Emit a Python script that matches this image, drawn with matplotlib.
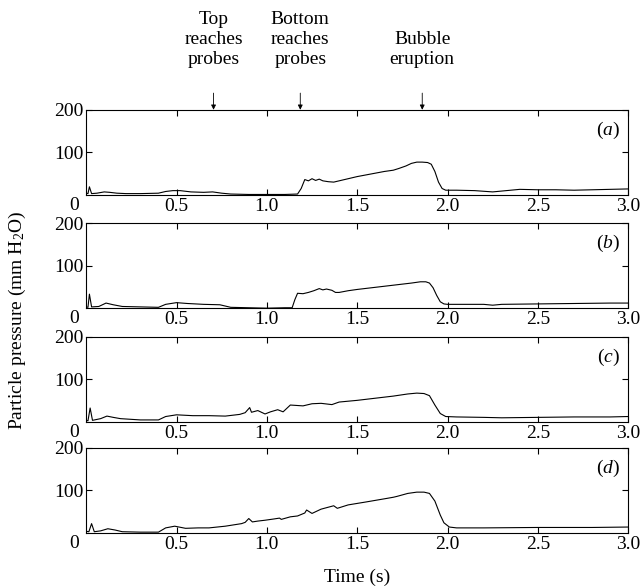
import matplotlib
matplotlib.use("Agg")
import matplotlib.pyplot as plt

plt.rcParams['font.family'] = ['Liberation Serif', 'DejaVu Serif']
plt.rcParams['mathtext.fontset'] = 'custom'
plt.rcParams['mathtext.rm'] = 'Liberation Serif'
plt.rcParams['mathtext.it'] = 'Liberation Serif:italic'
plt.rcParams['font.size'] = 14

# pressure traces (time in s, pressure in mm H2O)
t_a = [0, 0.01, 0.018, 0.03, 0.06, 0.1, 0.13, 0.17, 0.22, 0.3, 0.4, 0.44, 0.48, 0.52, 0.58,
       0.65, 0.7, 0.75, 0.8, 0.9, 1.0, 1.1, 1.17, 1.19, 1.21, 1.23, 1.25, 1.27, 1.29, 1.31,
       1.34, 1.37, 1.4, 1.45, 1.5, 1.55, 1.6, 1.65, 1.7, 1.73, 1.77, 1.8, 1.83, 1.86, 1.89,
       1.91, 1.93, 1.95, 1.97, 1.99, 2.05, 2.15, 2.25, 2.3, 2.4, 2.5, 2.6, 2.7, 2.8, 2.9, 3.0]
p_a = [4, 3, 19, 3, 4, 7, 6, 4, 3, 3, 4, 8, 10, 10, 7,
       6, 7, 4, 2, 1, 1, 1, 2, 15, 36, 33, 38, 34, 37, 33,
       31, 30, 33, 38, 43, 47, 51, 55, 58, 62, 68, 74, 77, 77, 76,
       72, 55, 30, 15, 11, 11, 10, 7, 9, 13, 12, 12, 11, 12, 13, 14]

t_b = [0, 0.01, 0.018, 0.03, 0.07, 0.11, 0.15, 0.2, 0.3, 0.4, 0.44, 0.5, 0.56, 0.65, 0.74,
       0.8, 0.9, 1.0, 1.1, 1.14, 1.155, 1.17, 1.2, 1.23, 1.26, 1.29, 1.31, 1.33, 1.36, 1.38,
       1.4, 1.45, 1.5, 1.6, 1.7, 1.8, 1.85, 1.88, 1.9, 1.92, 1.94, 1.96, 1.98, 2.0, 2.1,
       2.2, 2.25, 2.3, 2.5, 2.7, 2.9, 3.0]
p_b = [3, 2, 33, 3, 4, 12, 8, 4, 3, 2, 9, 13, 11, 9, 8,
       2, 1, 0, 1, 1, 20, 35, 34, 37, 41, 46, 43, 45, 42, 37,
       37, 41, 44, 49, 54, 59, 62, 62, 59, 48, 30, 15, 10, 9, 9,
       9, 7, 9, 10, 11, 12, 12]

t_c = [0, 0.01, 0.022, 0.035, 0.08, 0.115, 0.15, 0.19, 0.3, 0.4, 0.44, 0.5, 0.59, 0.68,
       0.77, 0.85, 0.88, 0.905, 0.915, 0.95, 0.99, 1.02, 1.06, 1.09, 1.13, 1.2, 1.25, 1.3,
       1.36, 1.4, 1.5, 1.6, 1.7, 1.78, 1.83, 1.87, 1.9, 1.93, 1.96, 1.99, 2.05, 2.2, 2.3,
       2.5, 2.7, 2.9, 3.0]
p_c = [4, 3, 33, 4, 8, 14, 11, 8, 5, 5, 13, 17, 15, 15,
       14, 18, 22, 34, 23, 27, 19, 24, 29, 24, 40, 38, 43, 44,
       41, 47, 51, 56, 61, 66, 68, 67, 62, 40, 20, 13, 12, 11, 10,
       11, 12, 12, 13]

t_d = [0, 0.015, 0.03, 0.045, 0.08, 0.12, 0.16, 0.2, 0.3, 0.4, 0.44, 0.49, 0.55, 0.62,
       0.68, 0.77, 0.86, 0.88, 0.9, 0.92, 0.95, 0.99, 1.04, 1.07, 1.08, 1.13, 1.17, 1.21,
       1.22, 1.25, 1.3, 1.37, 1.39, 1.45, 1.55, 1.66, 1.7, 1.72, 1.78, 1.83, 1.87, 1.9,
       1.93, 1.96, 1.98, 2.01, 2.05, 2.2, 2.5, 2.8, 3.0]
p_d = [4, 3, 22, 3, 5, 10, 7, 3, 2, 2, 12, 16, 11, 12,
       12, 16, 22, 25, 34, 26, 28, 30, 33, 35, 32, 38, 40, 47,
       54, 46, 56, 64, 58, 66, 73, 81, 84, 86, 93, 96, 96, 93,
       75, 42, 24, 14, 12, 12, 13, 13, 14]

panels = [(t_a, p_a, 'a'), (t_b, p_b, 'b'), (t_c, p_c, 'c'), (t_d, p_d, 'd')]
xticks = [0.5, 1.0, 1.5, 2.0, 2.5, 3.0]
xticklabels = ['0.5', '1.0', '1.5', '2.0', '2.5', '3.0']

events = [0.705, 1.185, 1.86]
event_labels = ['Top\nreaches\nprobes', 'Bottom\nreaches\nprobes', 'Bubble\neruption']

fig = plt.figure(figsize=(6.43, 5.87), dpi=100)
left, width, height = 0.134, 0.843, 0.145
bottoms = [0.668, 0.475, 0.281, 0.092]

axes = []
for (t, p, lab), b in zip(panels, bottoms):
    ax = fig.add_axes([left, b, width, height])
    ax.plot(t, p, color='black', lw=0.8)
    ax.set_xlim(0, 3.0)
    ax.set_ylim(0, 200)
    ax.set_xticks(xticks)
    ax.set_xticklabels(xticklabels)
    ax.set_yticks([100, 200])
    ax.set_yticklabels(['100', '200'])
    ax.tick_params(direction='in', top=True, right=True, length=4, width=0.8,
                   labelsize=14, pad=2)
    for s in ax.spines.values():
        s.set_linewidth(0.8)
    # the zero label sits under the corner, level with the time labels
    ax.annotate('0', xy=(0, 0), xycoords='axes fraction', xytext=(-5, -1.5),
                textcoords='offset points', ha='right', va='top', fontsize=14)
    ax.text(0.985, 0.76, '($\\mathit{%s}$)' % lab, transform=ax.transAxes,
            ha='right', va='center', fontsize=14)
    axes.append(ax)

ax0 = axes[0]
for x, lab in zip(events, event_labels):
    ax0.annotate('', xy=(x, 1.0), xycoords=('data', 'axes fraction'),
                 xytext=(0, 12), textcoords='offset points',
                 arrowprops=dict(arrowstyle='-|>', color='black', lw=0.6,
                                 mutation_scale=7, shrinkA=0, shrinkB=0))
    ax0.annotate(lab, xy=(x, 1.0), xycoords=('data', 'axes fraction'),
                 xytext=(0, 30), textcoords='offset points', ha='center', va='bottom',
                 fontsize=14, linespacing=1.25)

fig.text(0.027, 0.455, 'Particle pressure (mm H$_2$O)', rotation=90,
         ha='center', va='center', fontsize=14)
fig.text(0.555, 0.017, 'Time (s)', ha='center', va='center', fontsize=14)

fig.savefig('out.png', dpi=100)
